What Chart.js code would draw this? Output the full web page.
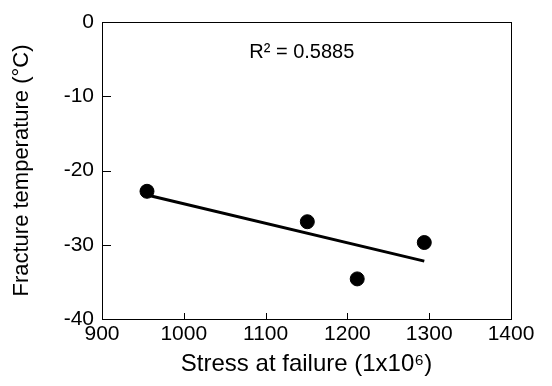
<!DOCTYPE html>
<html>
<head>
<meta charset="utf-8">
<script src="https://cdn.jsdelivr.net/npm/chart.js@4.4.1/dist/chart.umd.min.js"></script>
<style>
  html, body { margin: 0; padding: 0; background: #fff; }
  #wrap { width: 552px; height: 386px; }
</style>
</head>
<body>
<div id="wrap"><canvas id="c" width="552" height="386"></canvas></div>
<script>
// Measured specimens: stress at failure vs. fracture temperature
const stress = [955, 1151, 1212, 1294];
const fractureTemp = [-22.8, -26.9, -34.6, -29.7];

// Linear trend line endpoints
const trendStress = [955, 1294];
const trendTemp = [-23.3, -32.2];

const xTicks = [900, 1000, 1100, 1200, 1300, 1400];
const yTicks = [0, -10, -20, -30, -40];

const rSquaredLabel = 'R² = 0.5885';

const FONT = 'Liberation Sans, Arial, sans-serif';

// Short inward tick marks, plot frame and the R² note
const innerTicks = {
  id: 'innerTicks',
  afterDatasetsDraw(chart) {
    const { ctx, chartArea: a, scales: { x, y } } = chart;
    ctx.save();
    ctx.strokeStyle = '#000';
    ctx.lineWidth = 1;
    ctx.beginPath();
    xTicks.slice(1, -1).forEach(v => {
      const px = Math.round(x.getPixelForValue(v)) + 0.5;
      ctx.moveTo(px, a.bottom);
      ctx.lineTo(px, a.bottom - 6);
    });
    yTicks.slice(1, -1).forEach(v => {
      const py = Math.round(y.getPixelForValue(v)) + 0.5;
      ctx.moveTo(a.left, py);
      ctx.lineTo(a.left + 9, py);
    });
    ctx.stroke();
    ctx.strokeRect(Math.round(a.left) + 0.5, Math.round(a.top) + 0.5,
      Math.round(a.right - a.left), Math.round(a.bottom - a.top));
    ctx.fillStyle = '#000';
    ctx.font = '20px ' + FONT;
    ctx.textAlign = 'left';
    ctx.textBaseline = 'alphabetic';
    ctx.fillText(rSquaredLabel, x.getPixelForValue(1080), y.getPixelForValue(-4.8));
    ctx.restore();
  }
};

new Chart(document.getElementById('c'), {
  type: 'scatter',
  data: {
    datasets: [
      {
        type: 'line',
        data: trendStress.map((s, i) => ({ x: s, y: trendTemp[i] })),
        borderColor: '#000',
        borderWidth: 3,
        pointRadius: 0,
        fill: false
      },
      {
        data: stress.map((s, i) => ({ x: s, y: fractureTemp[i] })),
        backgroundColor: '#000',
        borderColor: '#000',
        pointRadius: 7,
        pointHoverRadius: 7
      }
    ]
  },
  options: {
    responsive: false,
    animation: false,
    layout: { padding: { top: 22, right: 41, left: 9, bottom: 7 } },
    plugins: { legend: { display: false }, tooltip: { enabled: false } },
    scales: {
      x: {
        type: 'linear',
        min: 900, max: 1400,
        afterBuildTicks: s => { s.ticks = xTicks.map(v => ({ value: v })); },
        afterFit: s => { s.height = 60; },
        grid: { display: false, drawTicks: false },
        border: { display: false },
        ticks: {
          color: '#000', font: { family: FONT, size: 21 }, padding: 3, maxRotation: 0,
          callback: v => String(v)
        },
        title: {
          display: true,
          text: 'Stress at failure (1x10⁶)',
          color: '#000',
          font: { family: FONT, size: 24 },
          padding: { top: 0, bottom: 0 }
        }
      },
      y: {
        type: 'linear',
        min: -40, max: 0,
        afterBuildTicks: s => { s.ticks = yTicks.map(v => ({ value: v })); },
        afterFit: s => { s.width = 93; },
        grid: { display: false, drawTicks: false },
        border: { display: false },
        ticks: {
          color: '#000', font: { family: FONT, size: 21 }, padding: 8,
          callback: v => String(v)
        },
        title: {
          display: true,
          text: 'Fracture temperature (°C)',
          color: '#000',
          font: { family: FONT, size: 22 },
          padding: { top: 0, bottom: 0 }
        }
      }
    }
  },
  plugins: [innerTicks]
});
</script>
</body>
</html>
